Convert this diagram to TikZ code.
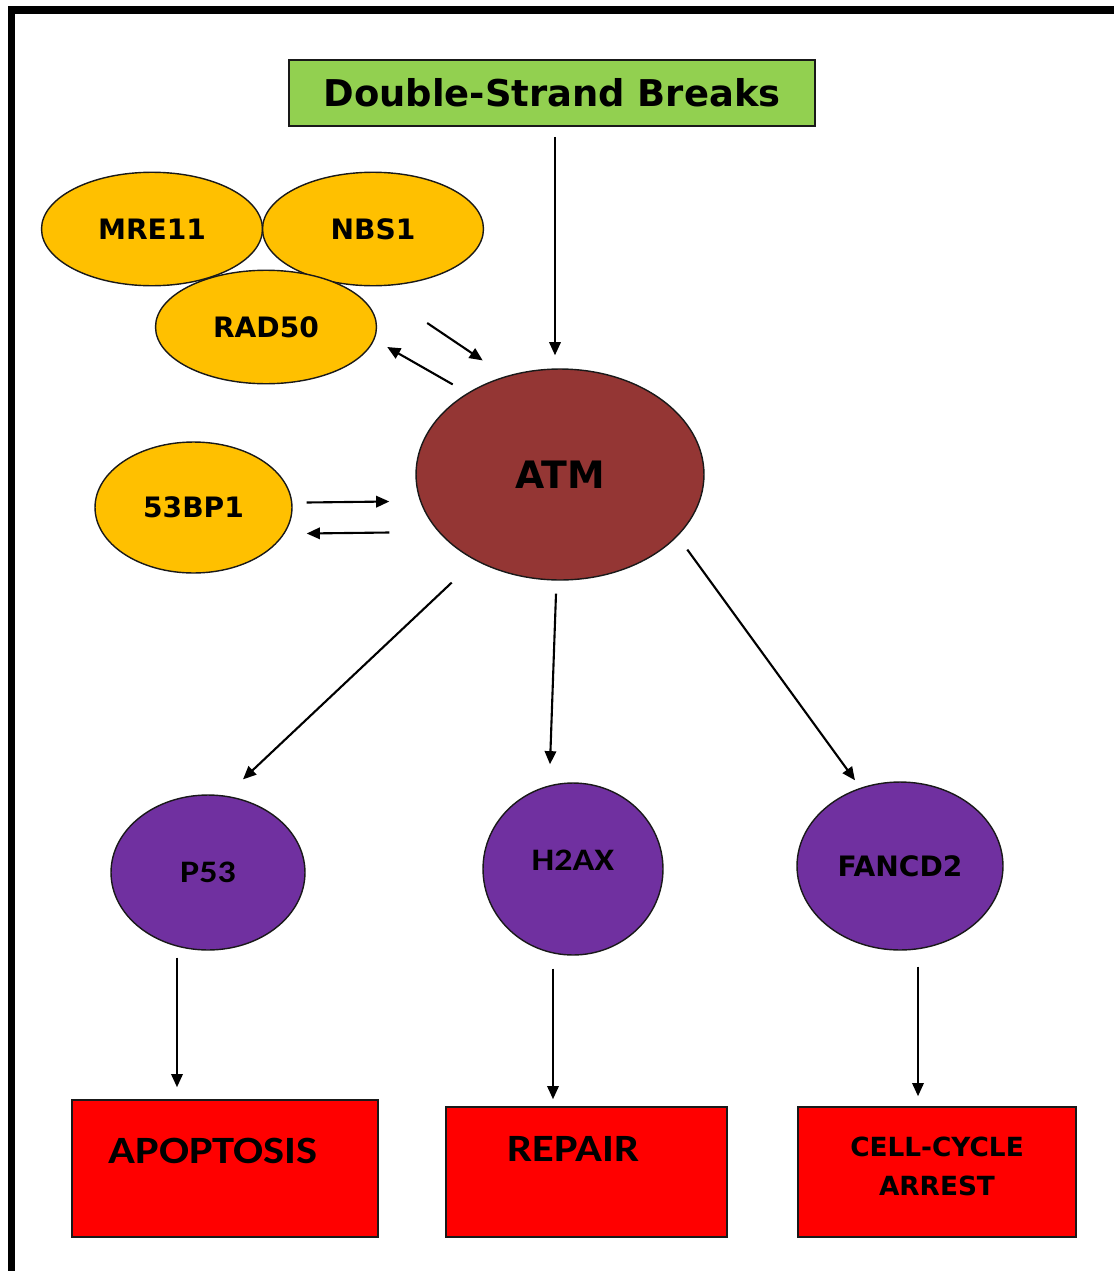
\documentclass[tikz,border=0pt]{standalone}
\usepackage{fontspec}
\setmainfont{DejaVu Sans}
\newfontfamily\calibri[FakeStretch=1.15]{Carlito}
\usetikzlibrary{shapes, arrows.meta, positioning}

\definecolor{dsbgreen}{HTML}{92D050}
\definecolor{mrngold}{HTML}{FFC000}
\definecolor{atmbrown}{HTML}{943634}
\definecolor{effpurple}{HTML}{7030A0}
\definecolor{fatered}{HTML}{FF0000}

\begin{document}
\begin{tikzpicture}[x=0.02cm, y=-0.02cm,
        frame/.style={line width=4.5pt, draw=black},
        trigger/.style={rectangle, draw=black!90, line width=0.9pt, fill=dsbgreen, inner sep=0pt, minimum width=10.52cm, minimum height=1.32cm, font=\bfseries\fontsize{21}{25}\selectfont},
        complex/.style={ellipse, draw=black!90, line width=0.8pt, fill=mrngold, inner sep=0pt, minimum width=4.42cm, minimum height=2.27cm, font=\bfseries\fontsize{16}{19}\selectfont},
        kinase/.style={ellipse, draw=black!90, line width=0.8pt, fill=atmbrown, inner sep=0pt, minimum width=5.76cm, minimum height=4.22cm, font=\bfseries\fontsize{21.5}{25}\selectfont},
        effector/.style={ellipse, draw=black!90, line width=0.8pt, fill=effpurple, inner sep=0pt, font=\calibri\bfseries\fontsize{17.8}{21}\selectfont},
        outcome/.style={rectangle, draw=black!90, line width=0.9pt, fill=fatered, inner sep=0pt, align=center, font=\calibri\bfseries\fontsize{22}{26}\selectfont},
        arr/.style={-{Triangle[length=7.5pt, width=6.5pt]}, line width=1.2pt, draw=black}
    ]
        \useasboundingbox (0,0) rectangle (1113,1271);
        % Frame
        \draw[frame] (11.5,1300) -- (11.5,10) -- (1200,10);

        % Nodes
        \node[trigger] (dsb) at (552, 93) {Double-Strand Breaks};
        \node[complex] (mre11) at (152, 229) {MRE11};
        \node[complex] (nbs1) at (373, 229) {NBS1};
        \node[complex] (rad50) at (266, 327) {RAD50};
        \node[complex, minimum width=3.94cm, minimum height=2.62cm] (bp53) at (193.5, 507.5) {53BP1};
        \node[kinase] (atm) at (560, 474.5) {ATM};
        \node[effector, minimum width=3.88cm, minimum height=3.1cm] (p53) at (208, 872.5) {P53};
        \node[effector, minimum width=3.6cm, minimum height=3.44cm, text height=0.4cm, text depth=0.36cm] (h2ax) at (573, 869) {H2AX};
        \node[effector, minimum width=4.12cm, minimum height=3.36cm, font=\bfseries\fontsize{16}{19}\selectfont] (fancd2) at (900, 866) {FANCD2};
        \node[outcome, minimum width=6.12cm, minimum height=2.74cm, text height=0.5cm, text depth=0.72cm] (apoptosis) at (225, 1168.5) {APOPTOSIS\hspace{0.48cm}};
        \node[outcome, minimum width=5.62cm, minimum height=2.6cm, text height=0.5cm, text depth=0.94cm] (repair) at (586.5, 1172) {REPAIR\hspace{0.52cm}};
        \node[outcome, minimum width=5.56cm, minimum height=2.6cm, text depth=0.24cm, font=\bfseries\fontsize{15}{22}\selectfont] (arrest) at (937, 1172) {CELL-CYCLE\\ARREST};

        % Arrows
        \draw[arr] ([shift={(3,10)}]dsb.south) -- ([shift={(-5,-13)}]atm.north);
        \draw[arr] ([shift={(50,-4)}]rad50.east) -- ([shift={(25,-39)}]atm.north west);
        \draw[arr] ([shift={(-5,-15)}]atm.north west) -- ([shift={(10,20)}]rad50.east);
        \draw[arr] ([shift={(14,-5)}]bp53.east) -- ([shift={(-26,27)}]atm.west);
        \draw[arr] ([shift={(-26,58)}]atm.west) -- ([shift={(14,26)}]bp53.east);
        \draw[arr] ([shift={(-6,33)}]atm.south west) -- ([shift={(35,-15)}]p53.north);
        \draw[arr] ([shift={(-4,13)}]atm.south) -- ([shift={(-23,-18)}]h2ax.north);
        \draw[arr] ([shift={(25,0)}]atm.south east) -- ([shift={(-45,-1)}]fancd2.north);
        \draw[arr] ([shift={(-31,7)}]p53.south) -- ([shift={(-48,-12)}]apoptosis.north);
        \draw[arr] ([shift={(-20,13)}]h2ax.south) -- ([shift={(-33.5,-7)}]repair.north);
        \draw[arr] ([shift={(18,16)}]fancd2.south) -- ([shift={(-19,-10)}]arrest.north);

    \end{tikzpicture}
\end{document}
